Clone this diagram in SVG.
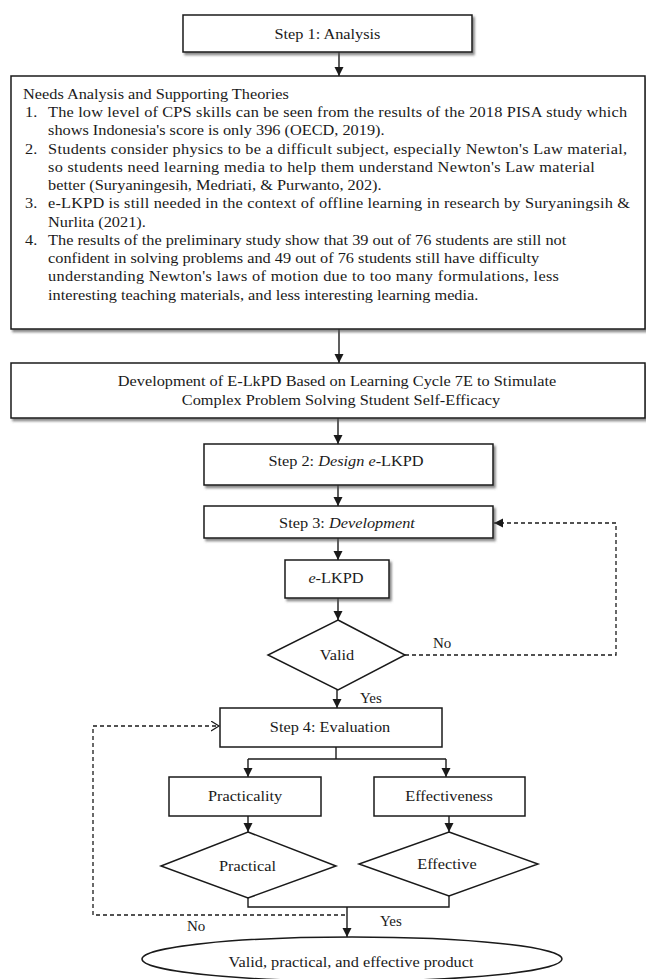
<svg xmlns="http://www.w3.org/2000/svg" width="646" height="979" viewBox="0 0 646 979">
<defs>
<style>
.t{font-family:"Liberation Serif","Times New Roman",serif;font-size:15px;fill:#1a1a1a}
.i{font-style:italic}
.box{fill:#fff;stroke:#1a1a1a;stroke-width:1.5}
.sh{filter:url(#ds)}
.c{fill:none;stroke:#1a1a1a;stroke-width:1.4}
.d{fill:none;stroke:#1a1a1a;stroke-width:1.3;stroke-dasharray:4 3}
</style>
<filter id="ds" x="-5%" y="-10%" width="115%" height="130%">
<feDropShadow dx="2" dy="2.5" stdDeviation="1.2" flood-color="#555" flood-opacity="0.7"/>
</filter>
<marker id="a" markerUnits="userSpaceOnUse" markerWidth="10" markerHeight="10" refX="9" refY="4.5" orient="auto">
<path d="M0,0 L9,4.5 L0,9 z" fill="#1a1a1a"/>
</marker>
<marker id="o" markerUnits="userSpaceOnUse" markerWidth="12" markerHeight="12" refX="8" refY="5" orient="auto">
<path d="M0,0 L8,5 L0,10" fill="none" stroke="#1a1a1a" stroke-width="1.2"/>
</marker>
</defs>
<rect width="646" height="979" fill="#fff"/>

<g id="connectors">
<path class="c" d="M339,52 V76" marker-end="url(#a)"/>
<path class="c" d="M339,329 V363" marker-end="url(#a)"/>
<path class="c" d="M338,418 V444" marker-end="url(#a)"/>
<path class="c" d="M338,485 V506" marker-end="url(#a)"/>
<path class="c" d="M338,538 V560" marker-end="url(#a)"/>
<path class="c" d="M338,598 V620" marker-end="url(#a)"/>
<path class="d" d="M405,655 H616 V523 H494" marker-end="url(#a)"/>
<path class="c" d="M337,690 V708" marker-end="url(#a)"/>
<path class="c" d="M336,747 V759"/>
<path class="c" d="M248,759 H446"/>
<path class="c" d="M248,759 V777" marker-end="url(#a)"/>
<path class="c" d="M446,759 V777" marker-end="url(#a)"/>
<path class="c" d="M248,816 V832" marker-end="url(#a)"/>
<path class="c" d="M449,816 V832" marker-end="url(#a)"/>
<path class="c" d="M248,898 V907 H449 V896"/>
<path class="c" d="M347,907 V937" marker-end="url(#a)"/>
<path class="d" d="M345,915 H93 V726 H219" marker-end="url(#o)"/>
<text class="t" x="433" y="648">No</text>
<text class="t" x="360" y="703">Yes</text>
<text class="t" x="380" y="926">Yes</text>
<text class="t" x="187" y="931">No</text>
</g>

<g id="step1">
<rect class="box sh" x="183" y="15" width="289" height="37"/>
<text class="t" transform="translate(327.5,38.5) scale(1.087,1)" text-anchor="middle">Step 1: Analysis</text>
</g>

<g id="needs">
<rect class="box sh" x="11" y="76" width="634" height="253"/>
<g transform="scale(1.087,1)">
<text class="t" x="21.2" y="99">Needs Analysis and Supporting Theories</text>
<text class="t" x="23" y="117.25">1.</text>
<text class="t" x="44.2" y="117.25" textLength="532.7" lengthAdjust="spacing">The low level of CPS skills can be seen from the results of the 2018 PISA study which</text>
<text class="t" x="44.2" y="135.5">shows Indonesia's score is only 396 (OECD, 2019).</text>
<text class="t" x="23" y="153.75">2.</text>
<text class="t" x="44.2" y="153.75" textLength="532.7" lengthAdjust="spacing">Students consider physics to be a difficult subject, especially Newton's Law material,</text>
<text class="t" x="44.2" y="172" textLength="503" lengthAdjust="spacing">so students need learning media to help them understand Newton's Law material</text>
<text class="t" x="44.2" y="190.25">better (Suryaningesih, Medriati, &amp; Purwanto, 202).</text>
<text class="t" x="23" y="208.5">3.</text>
<text class="t" x="44.2" y="208.5" textLength="535.4" lengthAdjust="spacing">e-LKPD is still needed in the context of offline learning in research by Suryaningsih &amp;</text>
<text class="t" x="44.2" y="226.75">Nurlita (2021).</text>
<text class="t" x="23" y="245">4.</text>
<text class="t" x="44.2" y="245">The results of the preliminary study show that 39 out of 76 students are still not</text>
<text class="t" x="44.2" y="263.25">confident in solving problems and 49 out of 76 students still have difficulty</text>
<text class="t" x="44.2" y="281.5" textLength="470" lengthAdjust="spacing">understanding Newton's laws of motion due to too many formulations, less</text>
<text class="t" x="44.2" y="299.75">interesting teaching materials, and less interesting learning media.</text>
</g>
</g>

<g id="development">
<rect class="box sh" x="11" y="363" width="634" height="55"/>
<text class="t" transform="translate(337,386) scale(1.087,1)" text-anchor="middle">Development of E-LkPD Based on Learning Cycle 7E to Stimulate</text>
<text class="t" transform="translate(341,405) scale(1.087,1)" text-anchor="middle">Complex Problem Solving Student Self-Efficacy</text>
</g>

<g id="step2">
<rect class="box sh" x="204" y="444" width="289" height="41"/>
<text class="t" transform="translate(346,466) scale(1.087,1)" text-anchor="middle">Step 2: <tspan class="i">Design e</tspan>-LKPD</text>
</g>

<g id="step3">
<rect class="box sh" x="204" y="506" width="289" height="32"/>
<text class="t" transform="translate(347,528) scale(1.087,1)" text-anchor="middle">Step 3: <tspan class="i">Development</tspan></text>
</g>

<g id="elkpd">
<rect class="box sh" x="285" y="560" width="104" height="38"/>
<text class="t" transform="translate(336,583) scale(1.087,1)" text-anchor="middle"><tspan class="i">e</tspan>-LKPD</text>
</g>

<g id="valid">
<polygon class="box" points="338,620 405,655 338,690 268,655"/>
<text class="t" transform="translate(337,660) scale(1.087,1)" text-anchor="middle">Valid</text>
</g>

<g id="step4">
<rect class="box" x="220" y="708" width="222" height="39"/>
<text class="t" transform="translate(330,732) scale(1.087,1)" text-anchor="middle">Step 4: Evaluation</text>
</g>

<g id="practicality">
<rect class="box" x="169" y="777" width="152" height="39"/>
<text class="t" transform="translate(245,801) scale(1.087,1)" text-anchor="middle">Practicality</text>
</g>

<g id="effectiveness">
<rect class="box" x="374" y="777" width="151" height="39"/>
<text class="t" transform="translate(449,801) scale(1.087,1)" text-anchor="middle">Effectiveness</text>
</g>

<g id="practical">
<polygon class="box" points="248,832 336,866 248,898 161,866"/>
<text class="t" transform="translate(247.5,871) scale(1.087,1)" text-anchor="middle">Practical</text>
</g>

<g id="effective">
<polygon class="box" points="449,832 538,864 449,896 359,864"/>
<text class="t" transform="translate(447,869) scale(1.087,1)" text-anchor="middle">Effective</text>
</g>

<g id="product">
<ellipse class="box" cx="352" cy="959" rx="210" ry="22"/>
<text class="t" transform="translate(351,967) scale(1.087,1)" text-anchor="middle">Valid, practical, and effective product</text>
</g>
</svg>
